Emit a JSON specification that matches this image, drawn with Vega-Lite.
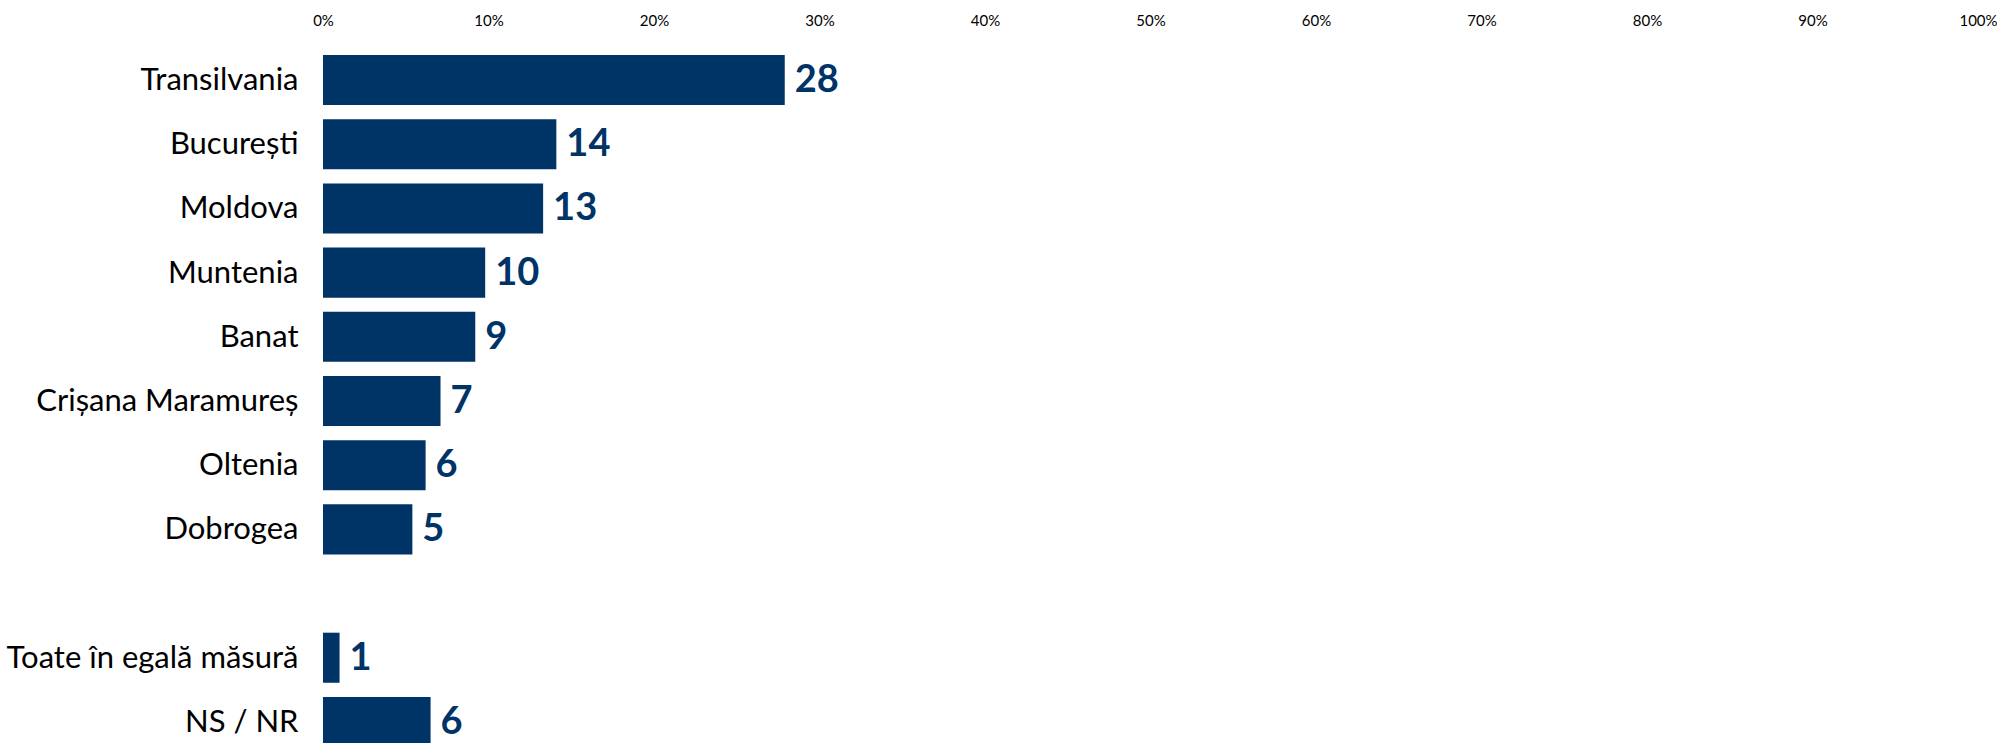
{
  "$schema": "https://vega.github.io/schema/vega-lite/v6.json",
  "autosize": {"type": "none"},
  "padding": {"left": 323, "top": 48, "right": 19, "bottom": 0},
  "width": 1655,
  "height": 695,
  "background": "white",
  "config": {"view": {"stroke": null}, "font": "Lato"},
  "data": {
    "values": [
      {"region": "Transilvania", "pct": 27.9, "label": "28"},
      {"region": "București", "pct": 14.1, "label": "14"},
      {"region": "Moldova", "pct": 13.3, "label": "13"},
      {"region": "Muntenia", "pct": 9.8, "label": "10"},
      {"region": "Banat", "pct": 9.2, "label": "9"},
      {"region": "Crișana Maramureș", "pct": 7.1, "label": "7"},
      {"region": "Oltenia", "pct": 6.2, "label": "6"},
      {"region": "Dobrogea", "pct": 5.4, "label": "5"},
      {"region": "Toate în egală măsură", "pct": 1.0, "label": "1"},
      {"region": "NS / NR", "pct": 6.5, "label": "6"}
    ]
  },
  "encoding": {
    "y": {
      "field": "region",
      "type": "nominal",
      "scale": {
        "domain": ["Transilvania", "București", "Moldova", "Muntenia", "Banat", "Crișana Maramureș", "Oltenia", "Dobrogea", " ", "Toate în egală măsură", "NS / NR"],
        "range": [0, 706],
        "paddingInner": 0.22,
        "paddingOuter": 0.11
      },
      "axis": {
        "title": null,
        "domain": false,
        "ticks": false,
        "tickSize": 0,
        "labelPadding": 25,
        "labelOffset": 1,
        "labelFont": "Lato",
        "labelFontSize": 31,
        "labelColor": "#000000",
        "labelLimit": 500
      }
    },
    "x": {
      "field": "pct",
      "type": "quantitative",
      "scale": {"domain": [0, 100], "nice": false},
      "axis": {
        "orient": "top",
        "title": null,
        "values": [0, 10, 20, 30, 40, 50, 60, 70, 80, 90, 100],
        "labelExpr": "datum.value + '%'",
        "grid": false,
        "domain": false,
        "ticks": false,
        "tickSize": 0,
        "labelPadding": 20,
        "labelFont": "Lato",
        "labelFontSize": 15,
        "labelColor": "#000000",
        "labelFlush": false
      }
    }
  },
  "layer": [
    {"mark": {"type": "bar", "color": "#003366"}},
    {
      "mark": {"type": "text", "align": "left", "baseline": "middle", "dx": 10, "dy": 1, "fontSize": 38, "fontWeight": "bold", "font": "Lato", "color": "#003366"},
      "encoding": {"text": {"field": "label"}}
    }
  ]
}
